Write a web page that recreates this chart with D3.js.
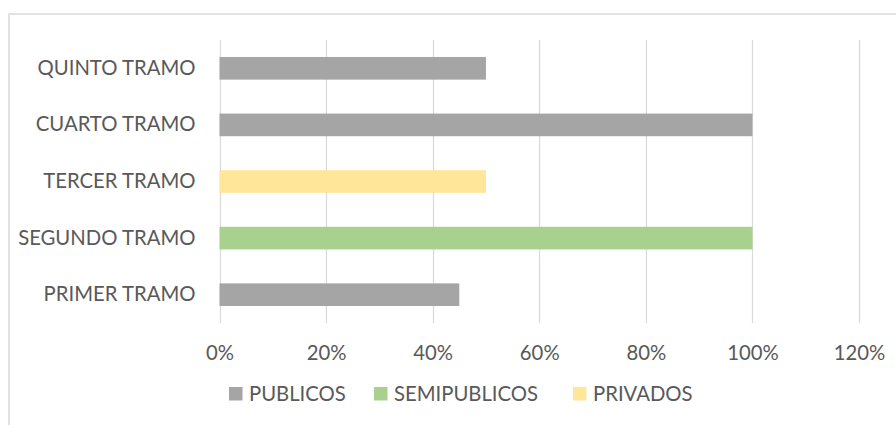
<!DOCTYPE html>
<html>
<head>
<meta charset="utf-8">
<script src="https://cdn.jsdelivr.net/npm/d3@7"></script>
<style>
	body { margin: 0; background: #fff; }
	svg text { font-family: Lato, "Open Sans", sans-serif; fill: #595959; }
</style>
</head>
<body>
<svg id="chart" width="896" height="425"></svg>
<script>
const CATEGORIES = ["PRIMER TRAMO", "SEGUNDO TRAMO", "TERCER TRAMO", "CUARTO TRAMO", "QUINTO TRAMO"];
const SERIES = ["PUBLICOS", "SEMIPUBLICOS", "PRIVADOS"];
const PUBLICOS = [0.45, 0, 0, 1.00, 0.50];
const SEMIPUBLICOS = [0, 1.00, 0, 0, 0];
const PRIVADOS = [0, 0, 0.50, 0, 0];
const X_TICKS = [0, 0.2, 0.4, 0.6, 0.8, 1.0, 1.2];
const COLORS = ["#a5a5a5", "#a9d18e", "#ffe699"];

const FONT_SIZE = 20.3;
const PLOT = { left: 219.5, right: 859, top: 40, bottom: 323 };

const svg = d3.select("#chart");

// chart frame (runs off the right and bottom edges)
svg.append("rect")
	.attr("x", 9).attr("y", 14)
	.attr("width", 900).attr("height", 420)
	.attr("fill", "none")
	.attr("stroke", "#d9d9d9")
	.attr("stroke-width", 1.5);

const rows = CATEGORIES.map((c, i) => ({
	category: c,
	PUBLICOS: PUBLICOS[i],
	SEMIPUBLICOS: SEMIPUBLICOS[i],
	PRIVADOS: PRIVADOS[i]
}));

const x = d3.scaleLinear()
	.domain([0, 1.2])
	.range([PLOT.left, PLOT.right]);

const y = d3.scaleBand()
	.domain(CATEGORIES.slice().reverse())
	.range([PLOT.top, PLOT.bottom])
	.paddingInner(0.6)
	.paddingOuter(0.3);

const color = d3.scaleOrdinal().domain(SERIES).range(COLORS);

// gridlines
svg.append("g")
	.selectAll("line")
	.data(X_TICKS)
	.enter().append("line")
	.attr("x1", (d) => Math.round(x(d)) + 0.5)
	.attr("x2", (d) => Math.round(x(d)) + 0.5)
	.attr("y1", PLOT.top)
	.attr("y2", PLOT.bottom)
	.attr("stroke", "#d9d9d9")
	.attr("stroke-width", 1.2);

// bars
const stacked = d3.stack().keys(SERIES)(rows);
svg.append("g")
	.selectAll("g")
	.data(stacked)
	.enter().append("g")
	.attr("fill", (d) => color(d.key))
	.selectAll("rect")
	.data((d) => d.filter((p) => p[1] > p[0]))
	.enter().append("rect")
	.attr("x", (d) => x(d[0]))
	.attr("y", (d) => y(d.data.category))
	.attr("width", (d) => x(d[1]) - x(d[0]))
	.attr("height", y.bandwidth());

// x axis labels
const xAxis = svg.append("g")
	.attr("transform", "translate(0," + PLOT.bottom + ")")
	.call(d3.axisBottom(x).tickValues(X_TICKS).tickFormat(d3.format(".0%")).tickSize(0).tickPadding(23));
xAxis.select(".domain").remove();
xAxis.selectAll("text")
	.attr("font-size", FONT_SIZE)
	.attr("dy", "0.7em")
	.attr("fill", "#595959");

// category labels
const yAxis = svg.append("g")
	.attr("transform", "translate(" + PLOT.left + ",0)")
	.call(d3.axisLeft(y).tickSize(0).tickPadding(24));
yAxis.select(".domain").remove();
yAxis.selectAll("text")
	.attr("font-size", FONT_SIZE)
	.attr("fill", "#595959");

// legend
const legendX = [229, 374, 573];
const legend = svg.append("g")
	.selectAll("g")
	.data(SERIES)
	.enter().append("g")
	.attr("transform", (d, i) => "translate(" + legendX[i] + ",387)");

legend.append("rect")
	.attr("width", 13.5)
	.attr("height", 13.5)
	.attr("fill", (d) => color(d));

legend.append("text")
	.attr("x", 20)
	.attr("y", 7)
	.attr("dy", "0.35em")
	.attr("font-size", FONT_SIZE)
	.text((d) => d);
</script>
</body>
</html>
